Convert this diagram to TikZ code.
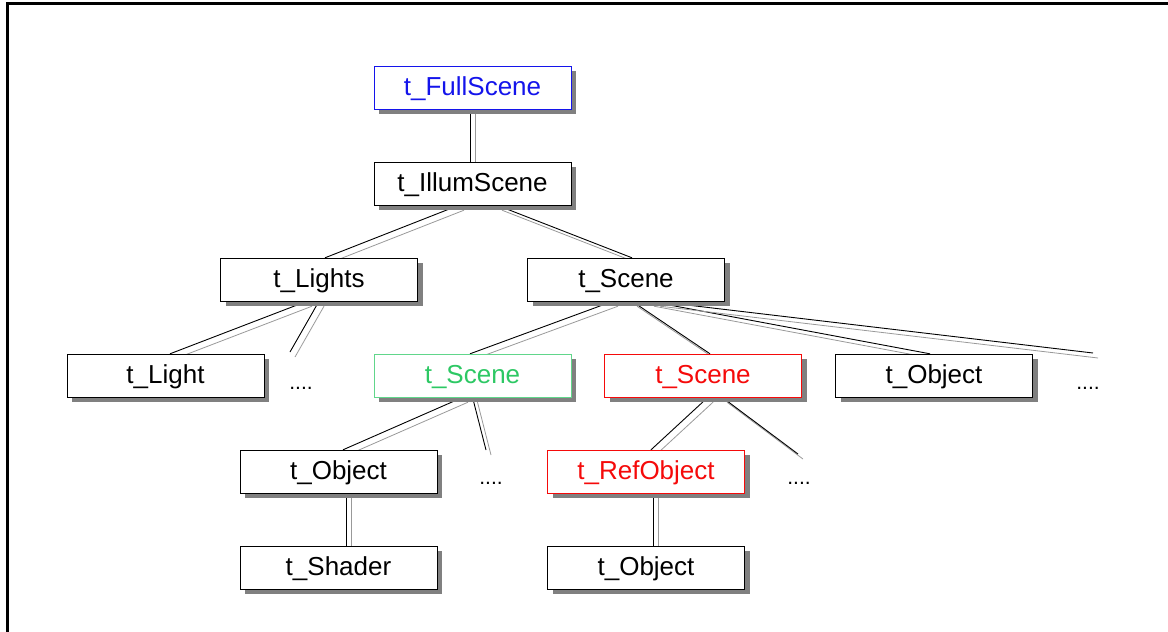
\documentclass[tikz,border=0pt]{standalone}
\usepackage{fontspec}
\setmainfont{Liberation Sans}
\usepackage{tikz}
\usetikzlibrary{shadows, backgrounds}
\definecolor{sceneblue}{RGB}{20,20,235}
\definecolor{scenegreen}{RGB}{45,200,100}
\definecolor{scenered}{RGB}{245,10,10}
\tikzstyle{cls} = [rectangle, minimum width=197pt, minimum height=43pt, text height=19pt, text depth=4pt, text centered, draw=black, fill=white, font=\fontsize{26}{30}\selectfont, drop shadow={shadow xshift=5pt, shadow yshift=-5pt, fill=black!50, opacity=1}]
\tikzstyle{more} = [anchor=base, inner sep=0pt, font=\fontsize{21}{25}\selectfont]
\tikzstyle{link} = [draw=black, line width=0.9pt, preaction={draw=black!40, line width=0.8pt, transform canvas={xshift=5pt, yshift=-5pt}}]

\begin{document}
\begin{tikzpicture}[x=1pt, y=1pt, node distance=96pt]
	\useasboundingbox (0,0) rectangle (1168,-632);
	\draw[line width=3pt] (1168,-3) -- (7,-3) -- (7,-632);

	\node[cls, draw=sceneblue, text=sceneblue] (full_scene) at (472.5,-87.5) {t\_FullScene};
	\node[cls, below of=full_scene] (illum_scene) {t\_IllumScene};
	\node[cls, below of=illum_scene, xshift=-153.5pt] (lights) {t\_Lights};
	\node[cls, below of=illum_scene, xshift=153.5pt] (scene) {t\_Scene};
	\node[cls, below of=lights, xshift=-153.5pt] (light) {t\_Light};
	\node[cls, below of=scene, xshift=-153.5pt, draw=scenegreen!75, text=scenegreen] (sub_scene) {t\_Scene};
	\node[cls, below of=scene, xshift=77pt, draw=scenered, text=scenered] (ref_scene) {t\_Scene};
	\node[cls, below of=scene, xshift=308pt] (object) {t\_Object};
	\node[cls, below of=sub_scene, xshift=-134pt] (sub_object) {t\_Object};
	\node[cls, below of=sub_object] (shader) {t\_Shader};
	\node[cls, below of=ref_scene, xshift=-57pt, draw=scenered, text=scenered] (ref_object) {t\_RefObject};
	\node[cls, below of=ref_object] (ref_target) {t\_Object};

	% the "more of the same" marks
	\node[more] (lights_more) at (301,-389) {....};
	\node[more] (scene_more) at (1088,-389) {....};
	\node[more] (sub_more) at (491,-484) {....};
	\node[more] (ref_more) at (799,-484) {....};
	\coordinate (lights_tip) at (290,-352);
	\coordinate (scene_tip) at (1093,-353);
	\coordinate (sub_tip) at (486,-450);
	\coordinate (ref_tip) at (798,-454);

	\begin{scope}[on background layer]
	\draw[link] ([xshift=-2.5pt]full_scene.south) -- ([xshift=-2.5pt]illum_scene.north);
	\draw[link] ([xshift=-13.5pt]illum_scene.south) -- ([xshift=6pt]lights.north);
	\draw[link] ([xshift=24.5pt]illum_scene.south) -- ([xshift=6pt]scene.north);
	\draw[link] ([xshift=-12pt]lights.south) -- ([xshift=4.5pt]light.north);
	\draw[link] (lights.south) -- (lights_tip);
	\draw[link] ([xshift=-13pt]scene.south) -- ([xshift=-2.5pt]sub_scene.north);
	\draw[link] ([xshift=6pt]scene.south) -- ([xshift=7pt]ref_scene.north);
	\draw[link] ([xshift=23pt]scene.south) -- ([xshift=-4pt]object.north);
	\draw[link] ([xshift=29pt]scene.south) -- (scene_tip);
	\draw[link] ([xshift=-9.5pt]sub_scene.south) -- ([xshift=4.5pt]sub_object.north);
	\draw[link] (sub_scene.south) -- (sub_tip);
	\draw[link] ([xshift=5pt]ref_scene.south) -- ([xshift=5pt]ref_object.north);
	\draw[link] ([xshift=19pt]ref_scene.south) -- (ref_tip);
	\draw[link] ([xshift=7.5pt]sub_object.south) -- ([xshift=7.5pt]shader.north);
	\draw[link] ([xshift=7pt]ref_object.south) -- ([xshift=7pt]ref_target.north);
	\end{scope}
\end{tikzpicture}
\end{document}
